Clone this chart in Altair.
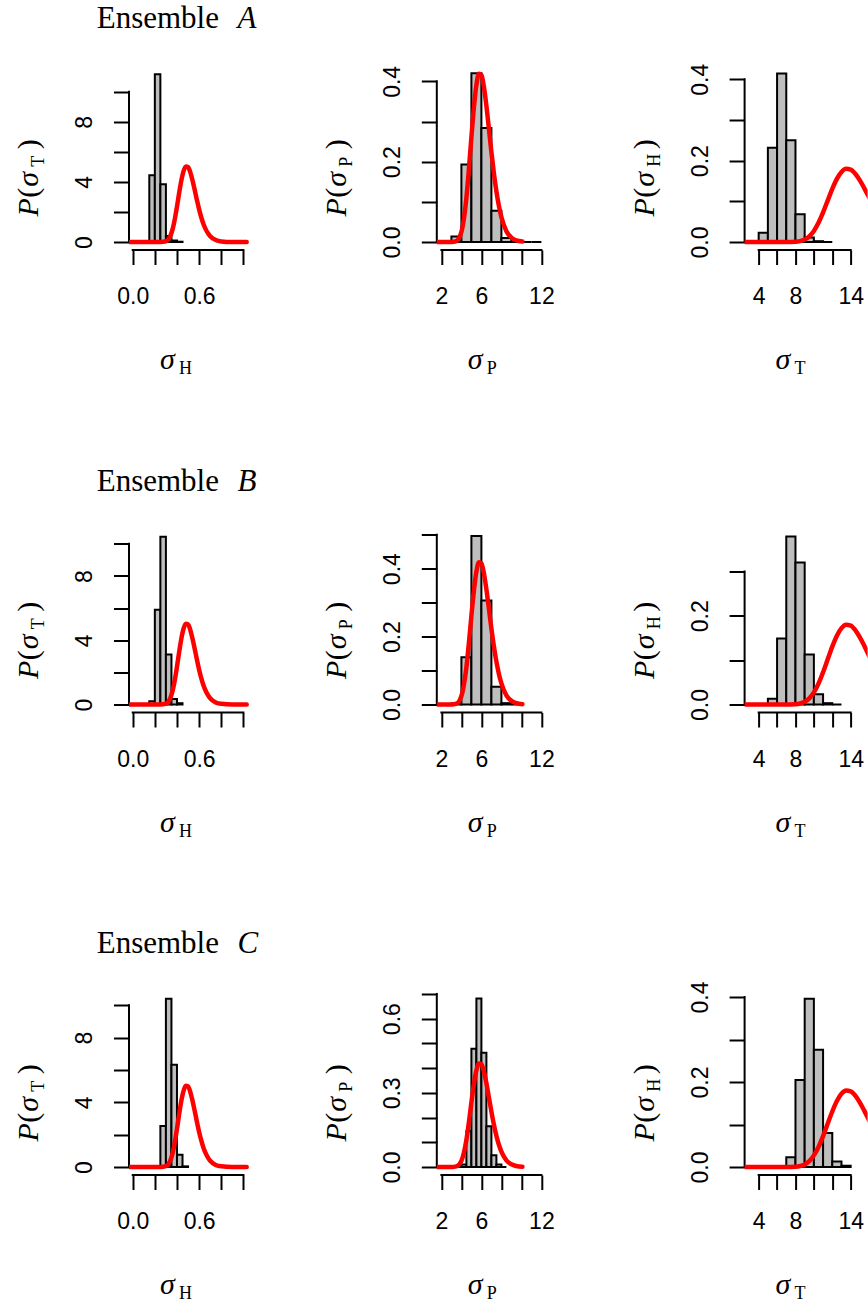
import altair as alt

# ---------------- data ----------------
ROWS = ["A", "B", "C"]
COLS = ["H", "P", "T"]
SUB_X = {"H": "H", "P": "P", "T": "T"}      # subscript of the x-axis variable
SUB_Y = {"H": "T", "P": "P", "T": "H"}      # subscript in the y-axis label

# histogram bin edges and densities, one pair per panel
breaks_A_H = [0.15, 0.20, 0.25, 0.30, 0.35, 0.40, 0.45]
dens_A_H = [4.44, 11.16, 3.84, 0.40, 0.10, 0.02]
breaks_A_P = [3, 4, 5, 6, 7, 8, 9, 10, 11, 12]
dens_A_P = [0.014, 0.193, 0.420, 0.284, 0.078, 0.010, 0.001, 0.0, 0.0]
breaks_A_T = [4, 5, 6, 7, 8, 9, 10, 11, 12]
dens_A_T = [0.023, 0.232, 0.414, 0.250, 0.068, 0.011, 0.002, 0.0]

breaks_B_H = [0.15, 0.20, 0.25, 0.30, 0.35, 0.40, 0.45]
dens_B_H = [0.20, 5.90, 10.45, 3.11, 0.35, 0.08]
breaks_B_P = [3, 4, 5, 6, 7, 8, 9, 10]
dens_B_P = [0.003, 0.139, 0.496, 0.306, 0.052, 0.004, 0.0]
breaks_B_T = [5, 6, 7, 8, 9, 10, 11, 12, 13]
dens_B_T = [0.013, 0.149, 0.379, 0.320, 0.113, 0.023, 0.003, 0.0]

breaks_C_H = [0.25, 0.30, 0.35, 0.40, 0.45, 0.50]
dens_C_H = [2.54, 10.41, 6.33, 0.76, 0.04]
breaks_C_P = [3.5, 4.0, 4.5, 5.0, 5.5, 6.0, 6.5, 7.0, 7.5, 8.0, 8.5]
dens_C_P = [0.0, 0.010, 0.145, 0.478, 0.682, 0.462, 0.165, 0.048, 0.010, 0.0]
breaks_C_T = [6, 7, 8, 9, 10, 11, 12, 13, 14]
dens_C_T = [0.002, 0.023, 0.205, 0.396, 0.276, 0.080, 0.013, 0.003]

# red prior curves (same in every row of a column)
curve_H_x = [-0.0334, 0.25, 0.30, 0.34, 0.36, 0.38, 0.40, 0.42, 0.44, 0.46, 0.48, 0.50, 0.52,
             0.54, 0.56, 0.58, 0.60, 0.62, 0.64, 0.66, 0.68, 0.70, 0.75, 0.80, 0.90, 1.03]
curve_H_y = [0.0, 0.001, 0.05, 0.40, 0.84, 1.51, 2.36, 3.28, 4.12, 4.73, 5.03, 4.99, 4.65,
             4.11, 3.47, 2.80, 2.17, 1.63, 1.18, 0.84, 0.58, 0.39, 0.13, 0.04, 0.003, 0.0]
curve_P_x = [1.54, 3.0, 3.5, 4.0, 4.25, 4.5, 4.75, 5.0, 5.25, 5.5, 5.75, 6.0, 6.25, 6.5,
             6.75, 7.0, 7.25, 7.5, 7.75, 8.0, 8.5, 9.0, 9.5, 10.1]
curve_P_y = [0.0, 0.0001, 0.0024, 0.025, 0.058, 0.110, 0.181, 0.261, 0.335, 0.391, 0.419,
             0.416, 0.386, 0.339, 0.282, 0.224, 0.171, 0.126, 0.090, 0.062, 0.027, 0.011,
             0.004, 0.001]
curve_T_x = [2.47, 7.0, 8.0, 8.5, 9.0, 9.5, 10.0, 10.5, 11.0, 11.5, 12.0, 12.5, 13.0, 13.5,
             14.0, 14.5, 15.0, 15.5, 16.0, 16.3]
curve_T_y = [0.0, 0.0, 0.0007, 0.0023, 0.0061, 0.0139, 0.0273, 0.0472, 0.0728, 0.1018,
             0.1306, 0.1552, 0.1723, 0.180, 0.1781, 0.1679, 0.1515, 0.1314, 0.110, 0.097]

# axis ticks and the tick labels that are printed
xticks_H = [0, 0.2, 0.4, 0.6, 0.8, 1.0]
xlabels_H = [0, 0.6]
xticks_P = [2, 4, 6, 8, 10, 12]
xlabels_P = [2, 6, 12]
xticks_T = [4, 6, 8, 10, 12, 14]
xlabels_T = [4, 8, 14]

yticks_H = [0, 2, 4, 6, 8, 10]
ylabels_H = [0, 4, 8]
yticks_A_P = [0, 0.1, 0.2, 0.3, 0.4]
yticks_B_P = [0, 0.1, 0.2, 0.3, 0.4, 0.5]
yticks_C_P = [0, 0.1, 0.2, 0.3, 0.4, 0.5, 0.6, 0.7]
ylabels_AB_P = [0, 0.2, 0.4]
ylabels_C_P = [0, 0.3, 0.6]
yticks_A_T = [0, 0.1, 0.2, 0.3, 0.4]
yticks_B_T = [0, 0.1, 0.2, 0.3]
yticks_C_T = [0, 0.1, 0.2, 0.3, 0.4]
ylabels_A_T = [0, 0.2, 0.4]
ylabels_B_T = [0, 0.2]
ylabels_C_T = [0, 0.2, 0.4]

BREAKS = {("A", "H"): breaks_A_H, ("A", "P"): breaks_A_P, ("A", "T"): breaks_A_T,
          ("B", "H"): breaks_B_H, ("B", "P"): breaks_B_P, ("B", "T"): breaks_B_T,
          ("C", "H"): breaks_C_H, ("C", "P"): breaks_C_P, ("C", "T"): breaks_C_T}
DENS = {("A", "H"): dens_A_H, ("A", "P"): dens_A_P, ("A", "T"): dens_A_T,
        ("B", "H"): dens_B_H, ("B", "P"): dens_B_P, ("B", "T"): dens_B_T,
        ("C", "H"): dens_C_H, ("C", "P"): dens_C_P, ("C", "T"): dens_C_T}
CURVES = {"H": (curve_H_x, curve_H_y), "P": (curve_P_x, curve_P_y), "T": (curve_T_x, curve_T_y)}
XTICKS = {"H": (xticks_H, xlabels_H, ".1f"), "P": (xticks_P, xlabels_P, "d"),
          "T": (xticks_T, xlabels_T, "d")}
YTICKS = {("A", "H"): (yticks_H, ylabels_H, "d"), ("B", "H"): (yticks_H, ylabels_H, "d"),
          ("C", "H"): (yticks_H, ylabels_H, "d"),
          ("A", "P"): (yticks_A_P, ylabels_AB_P, ".1f"), ("B", "P"): (yticks_B_P, ylabels_AB_P, ".1f"),
          ("C", "P"): (yticks_C_P, ylabels_C_P, ".1f"),
          ("A", "T"): (yticks_A_T, ylabels_A_T, ".1f"), ("B", "T"): (yticks_B_T, ylabels_B_T, ".1f"),
          ("C", "T"): (yticks_C_T, ylabels_C_T, ".1f")}

# ---------------- layout / style ----------------
SERIF = "Liberation Serif"
SANS = "Liberation Sans"
W, W_LAST, H = 127, 123, 216
KX = {"H": 110.7, "P": 10.0, "T": 9.2}           # pixels per unit on x
XMIN = {"H": -0.0334, "P": 1.54, "T": 2.47}       # left edge of each plot region
YLIM = {("A", "H"): 13.31, ("A", "P"): 0.498, ("A", "T"): 0.4917,
        ("B", "H"): 12.45, ("B", "P"): 0.589, ("B", "T"): 0.451,
        ("C", "H"): 12.37, ("C", "P"): 0.809, ("C", "T"): 0.4706}
TICK_FONT = 23


def label_expr(shown, fmt):
    arr = ",".join(repr(v) for v in shown)
    return f"indexof([{arr}], datum.value) >= 0 ? format(datum.value, '{fmt}') : ''"


def axis_x(ticks, shown, fmt):
    return alt.Axis(values=ticks, labelExpr=label_expr(shown, fmt), domain=False, grid=False,
                    title=None, tickSize=14.5, tickWidth=2, tickColor="black",
                    labelFont=SANS, labelFontSize=TICK_FONT, labelColor="black", labelPadding=39.2,
                    labelAngle=0, labelAlign="center", labelBaseline="alphabetic",
                    labelFlush=False, labelOverlap=False)


def axis_y(ticks, shown, fmt):
    return alt.Axis(values=ticks, labelExpr=label_expr(shown, fmt), domain=False, grid=False,
                    title=None, tickSize=15.5, tickWidth=2, tickColor="black",
                    labelFont=SANS, labelFontSize=TICK_FONT, labelColor="black", labelPadding=22.1,
                    labelAngle=270, labelAlign="center", labelBaseline="alphabetic",
                    labelFlush=False, labelOverlap=False)


ONE = alt.Data(values=[{"k": 0}])


def txt(text, x, y, size, italic=False, angle=0):
    return alt.Chart(ONE).mark_text(
        x=x, y=y, fontSize=size, font=SERIF, fontStyle="italic" if italic else "normal",
        angle=angle, align="left", baseline="alphabetic", color="black"
    ).encode(text=alt.value(text))


def panel(r, c, ci):
    w = W_LAST if ci == 2 else W
    xdom = [XMIN[c], XMIN[c] + w / KX[c]]
    ylim = YLIM[(r, c)]
    ydom = [-0.04 * ylim, 1.04 * ylim]
    xs = alt.Scale(domain=xdom, nice=False, zero=False)
    ys = alt.Scale(domain=ydom, nice=False, zero=False)
    xt, xl, xf = XTICKS[c]
    yt, yl, yf = YTICKS[(r, c)]
    ax, ay = axis_x(xt, xl, xf), axis_y(yt, yl, yf)

    def X(f):
        return alt.X(f, type="quantitative", scale=xs, axis=ax)

    def Y(f):
        return alt.Y(f, type="quantitative", scale=ys, axis=ay)

    br, d = BREAKS[(r, c)], DENS[(r, c)]
    bar_rows = [{"x": br[i], "x2": br[i + 1], "y": 0, "y2": d[i]} for i in range(len(d))]
    cx, cy = CURVES[c]
    curve_rows = [{"x": a, "y": b} for a, b in zip(cx, cy)]

    yline = alt.Chart(alt.Data(values=[{"x": xdom[0], "y": yt[0], "y2": yt[-1]}])).mark_rule(
        color="black", strokeWidth=2, strokeCap="square").encode(x=X("x"), y=Y("y"), y2="y2:Q")
    xline = alt.Chart(alt.Data(values=[{"x": xt[0], "x2": xt[-1], "y": ydom[0]}])).mark_rule(
        color="black", strokeWidth=2, strokeCap="square").encode(x=X("x"), x2="x2:Q", y=Y("y"))
    bars = alt.Chart(alt.Data(values=bar_rows)).mark_rect(
        fill="#BEBEBE", stroke="black", strokeWidth=2).encode(
        x=X("x"), x2="x2:Q", y=Y("y"), y2="y2:Q")
    curve = alt.Chart(alt.Data(values=curve_rows)).mark_line(
        color="#FF0000", strokeWidth=4.5, interpolate="monotone", strokeCap="round",
        clip=True).encode(x=X("x"), y=Y("y"))

    texts = [
        # y-axis label  P(sigma_sub), rotated
        txt("P", -91.0, 182.6, 30, italic=True, angle=270),
        txt("(", -91.0, 163.7, 30, angle=270),
        txt("σ", -91.0, 152.8, 30, italic=True, angle=270),
        txt(SUB_Y[c], -85.0, 132.8, 18, angle=270),
        txt(")", -91.0, 115.3, 30, angle=270),
        # x-axis label sigma_sub
        txt("σ", 31.0, 335.0, 30, italic=True),
        txt(SUB_X[c], 50.0, 340.3, 18),
    ]
    if ci == 0:
        texts += [txt("Ensemble", -32.3, -5.7, 31), txt(r, 108.4, -5.7, 31, italic=True)]
    layers = [yline, xline, bars, curve] + texts
    if r == "A" and ci == 0:
        anchor = alt.Chart(ONE).mark_point(filled=True, color="white", size=1, opacity=1).encode(
            x=alt.value(-128.3), y=alt.value(-33.0))
        layers.append(anchor)
    return alt.layer(*layers).properties(width=w, height=H)


panels = [panel(r, c, ci) for r in ROWS for ci, c in enumerate(COLS)]

chart = alt.concat(
    *panels, columns=3, spacing={"row": 246.5, "column": 180.8}, bounds="flush"
).properties(padding=0).configure_view(strokeOpacity=0)

chart.save("out.html", embed_options={"renderer": "svg", "actions": False})
